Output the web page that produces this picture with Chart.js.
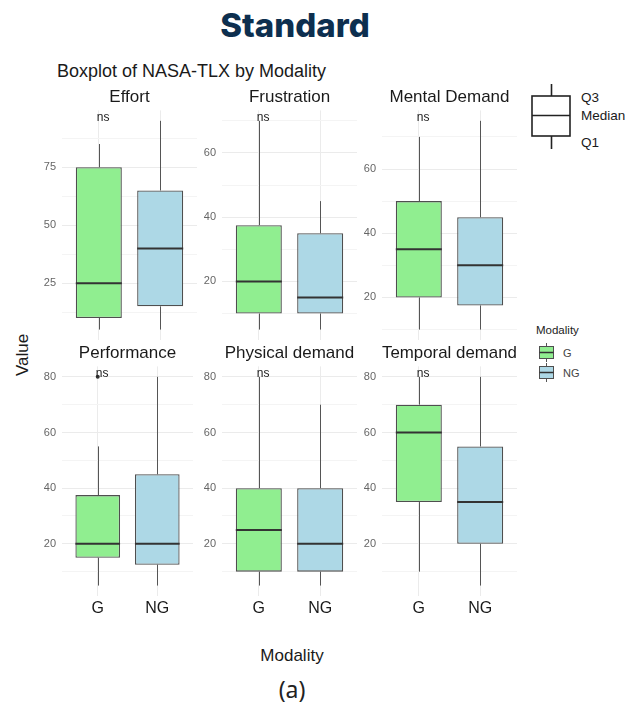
<!DOCTYPE html>
<html>
<head>
<meta charset="utf-8">
<title>NASA-TLX by Modality</title>
<script src="https://cdn.jsdelivr.net/npm/chart.js@4.4.1/dist/chart.umd.min.js"></script>
<style>
  html, body { margin: 0; padding: 0; background: #fff; }
  body {
    width: 625px; height: 704px; position: relative; overflow: hidden;
    font-family: "Liberation Sans", Arial, sans-serif; color: #1a1a1a;
  }
  canvas { position: absolute; }
  .txt { position: absolute; white-space: nowrap; line-height: 1; }
  .mid { transform: translate(-50%, -50%); }
  .left { transform: translate(0, -50%); }
  #heading { font-family: Inter, "Noto Sans", sans-serif; font-weight: 800; font-size: 33px; color: #0d2f4f; }
  #subfig { font-family: "Noto Sans", sans-serif; font-size: 23px; color: #222; }
  svg { position: absolute; overflow: visible; }
</style>
</head>
<body>

<div id="heading" class="txt mid" style="left:295px; top:25px;">Standard</div>
<div class="txt left" style="left:57px; top:71px; font-size:18px;">Boxplot of NASA-TLX by Modality</div>
<div class="txt mid" style="left:22px; top:355px; font-size:17px; transform: translate(-50%, -50%) rotate(-90deg);">Value</div>
<div class="txt mid" style="left:292px; top:655px; font-size:17px;">Modality</div>
<div id="subfig" class="txt mid" style="left:292px; top:689px;">(a)</div>

<!-- box anatomy key -->
<svg style="left:525px; top:80px;" width="60" height="75">
  <g stroke="#222" stroke-width="1.6" fill="none">
    <line x1="26.5" y1="4" x2="26.5" y2="16"/>
    <rect x="7" y="16" width="38" height="40"/>
    <line x1="7" y1="35.5" x2="45" y2="35.5"/>
    <line x1="26.5" y1="56" x2="26.5" y2="69"/>
  </g>
</svg>
<div class="txt left" style="left:581px; top:98px; font-size:13.5px;">Q3</div>
<div class="txt left" style="left:581px; top:116px; font-size:13.5px;">Median</div>
<div class="txt left" style="left:581px; top:143px; font-size:13.5px;">Q1</div>

<!-- fill legend -->
<div class="txt left" style="left:536px; top:331px; font-size:11.5px; color:#222;">Modality</div>
<div id="fillKeys"></div>

<script>
// ---- data ----
const facets = ["Effort", "Frustration", "Mental Demand", "Performance", "Physical demand", "Temporal demand"];
const modalities = ["G", "NG"];
const fills = ["#90EE90", "#ADD8E6"];

// five-number summaries, one [G, NG] pair per facet
const whiskerLow  = [[5, 5],   [5, 5],     [10, 10],   [5, 5],     [5, 5],   [10, 5]];
const q1          = [[10, 15], [10, 10],   [20, 17.5], [15, 12.5], [10, 10], [35, 20]];
const median      = [[25, 40], [20, 15],   [35, 30],   [20, 20],   [25, 20], [60, 35]];
const q3          = [[75, 65], [37.5, 35], [50, 45],   [37.5, 45], [40, 40], [70, 55]];
const whiskerHigh = [[85, 95], [70, 45],   [70, 75],   [55, 80],   [80, 70], [80, 80]];
const outliers    = [[[], []], [[], []],   [[], []],   [[80], []], [[], []], [[], []]];

// labelled y ticks per facet
const yTicks = [[25, 50, 75], [20, 40, 60], [20, 40, 60], [20, 40, 60, 80], [20, 40, 60, 80], [20, 40, 60, 80]];
// G vs NG comparison result
const pLabels = ["ns", "ns", "ns", "ns", "ns", "ns"];

// ---- layout ----
const colLeft = [62, 222, 382];
const rowTop = [85, 341];
const plotW = 135;
const axisW = 32;
const titleH = 25.4;
const plotH = 230;
const xAxisH = 24;

Chart.defaults.font.family = '"Liberation Sans", Arial, sans-serif';
Chart.defaults.color = "#1a1a1a";

// whiskers under the boxes, medians and the test label on top
const boxParts = {
    id: "boxParts",
    beforeDatasetsDraw(chart) {
        const k = chart.options.plugins.boxParts.facet;
        const { ctx, scales: { x, y } } = chart;
        ctx.save();
        ctx.strokeStyle = "#555";
        ctx.lineWidth = 1;
        ctx.beginPath();
        modalities.forEach((m, i) => {
            const px = Math.round(x.getPixelForValue(i + 1)) + 0.5;
            ctx.moveTo(px, y.getPixelForValue(whiskerHigh[k][i]));
            ctx.lineTo(px, y.getPixelForValue(q3[k][i]));
            ctx.moveTo(px, y.getPixelForValue(q1[k][i]));
            ctx.lineTo(px, y.getPixelForValue(whiskerLow[k][i]));
        });
        ctx.stroke();
        ctx.restore();
    },
    afterDatasetsDraw(chart) {
        const k = chart.options.plugins.boxParts.facet;
        const { ctx, scales: { x, y }, chartArea } = chart;
        ctx.save();
        ctx.strokeStyle = "#333";
        ctx.lineWidth = 2;
        ctx.beginPath();
        chart.getDatasetMeta(0).data.forEach((bar, i) => {
            const { x: bx, width } = bar.getProps(["x", "width"], true);
            const py = y.getPixelForValue(median[k][i]);
            ctx.moveTo(bx - width / 2, py);
            ctx.lineTo(bx + width / 2, py);
        });
        ctx.stroke();

        ctx.fillStyle = "#222";
        ctx.font = '12px "Liberation Sans", Arial, sans-serif';
        ctx.textAlign = "left";
        ctx.textBaseline = "middle";
        ctx.fillText(pLabels[k], x.getPixelForValue(1) - 2, chartArea.top + 7);
        ctx.restore();
    }
};

function makePanel(k) {
    const row = Math.floor(k / 3);
    const col = k % 3;
    const bottomRow = row === 1;

    const canvas = document.createElement("canvas");
    canvas.width = axisW + plotW;
    canvas.height = titleH + plotH + (bottomRow ? xAxisH : 0);
    canvas.style.left = (colLeft[col] - axisW) + "px";
    canvas.style.top = rowTop[row] + "px";
    document.body.appendChild(canvas);

    // free y scale with 5% expansion, like the facet scales
    const extra = outliers[k].flat();
    const lo = Math.min(...whiskerLow[k], ...extra);
    const hi = Math.max(...whiskerHigh[k], ...extra);
    const pad = (hi - lo) * 0.05;

    // major ticks plus minor grid lines halfway between them
    const majors = yTicks[k];
    const half = (majors[1] - majors[0]) / 2;
    const gridVals = [];
    for (let j = -1; majors[0] + j * half <= hi + pad; j++) {
        const v = majors[0] + j * half;
        if (v >= lo - pad) gridVals.push(v);
    }

    const outlierPts = [];
    outliers[k].forEach((vals, i) => vals.forEach(v => outlierPts.push({ x: i + 1, y: v })));

    new Chart(canvas, {
        type: "bar",
        data: {
            datasets: [
                {
                    data: modalities.map((m, i) => ({ x: i + 1, y: [q1[k][i], q3[k][i]] })),
                    backgroundColor: fills,
                    borderColor: "#4f4f4f",
                    borderWidth: 1.3,
                    borderSkipped: false,
                    barPercentage: 0.75,
                    categoryPercentage: 1
                },
                {
                    type: "scatter",
                    data: outlierPts,
                    pointRadius: 2,
                    pointBackgroundColor: "#333",
                    pointBorderWidth: 0
                }
            ]
        },
        options: {
            responsive: false,
            animation: false,
            events: [],
            layout: { padding: 0 },
            plugins: {
                legend: { display: false },
                tooltip: { enabled: false },
                title: {
                    display: true,
                    text: facets[k],
                    fullSize: false,
                    font: { size: 17, weight: "normal" },
                    color: "#1a1a1a",
                    padding: { top: 2, bottom: 3 }
                },
                boxParts: { facet: k }
            },
            scales: {
                x: {
                    type: "linear",
                    min: 0.4,
                    max: 2.6,
                    offset: false,
                    afterBuildTicks: s => { s.ticks = modalities.map((m, i) => ({ value: i + 1 })); },
                    ticks: {
                        display: bottomRow,
                        autoSkip: false,
                        maxRotation: 0,
                        callback: v => modalities[v - 1] || "",
                        font: { size: 16 },
                        color: "#1a1a1a",
                        padding: 3
                    },
                    grid: { color: "#ebebeb", drawTicks: false, offset: false },
                    border: { display: false },
                    afterFit: s => {
                        s.height = bottomRow ? xAxisH : 0;
                        s.paddingLeft = 0;
                        s.paddingRight = 0;
                    }
                },
                y: {
                    min: lo - pad,
                    max: hi + pad,
                    afterBuildTicks: s => { s.ticks = gridVals.map(v => ({ value: v })); },
                    ticks: {
                        autoSkip: false,
                        callback: v => majors.includes(v) ? String(v) : "",
                        font: { size: 11 },
                        color: "#666",
                        padding: 6
                    },
                    grid: {
                        color: c => majors.includes(c.tick.value) ? "#ebebeb" : "#f4f4f4",
                        drawTicks: false
                    },
                    border: { display: false },
                    afterFit: s => {
                        s.width = axisW;
                        s.paddingTop = 0;
                        s.paddingBottom = 0;
                    }
                }
            }
        },
        plugins: [boxParts]
    });
}

facets.forEach((f, k) => makePanel(k));

// fill legend keys
const keys = document.getElementById("fillKeys");
modalities.forEach((m, i) => {
    const top = 341 + i * 20;
    keys.insertAdjacentHTML("beforeend",
        `<svg style="left:536px; top:${top}px;" width="22" height="22">
           <line x1="10.5" y1="2" x2="10.5" y2="21" stroke="#555" stroke-width="1"/>
           <rect x="3.5" y="5.5" width="14" height="12" fill="${fills[i]}" stroke="#4f4f4f" stroke-width="1"/>
           <line x1="3.5" y1="11.5" x2="17.5" y2="11.5" stroke="#333" stroke-width="1.5"/>
         </svg>
         <div class="txt left" style="left:563px; top:${top + 12}px; font-size:11px; color:#444;">${m}</div>`);
});
</script>
</body>
</html>
